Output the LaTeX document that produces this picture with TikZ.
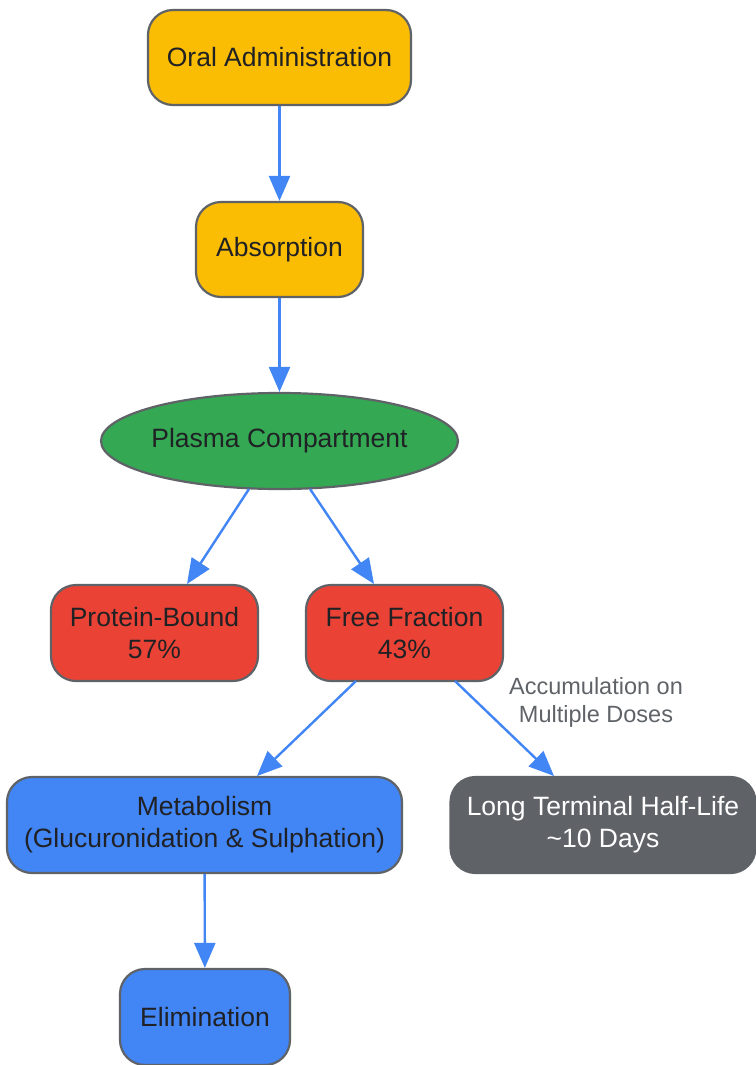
\documentclass[tikz,border=0pt]{standalone}
\usepackage{fontspec}
\setmainfont{Liberation Sans}
\usetikzlibrary{shapes.geometric,arrows.meta}
\definecolor{gyellow}{HTML}{FBBC04}
\definecolor{ggreen}{HTML}{34A853}
\definecolor{gred}{HTML}{EA4335}
\definecolor{gblue}{HTML}{4285F4}
\definecolor{ggray}{HTML}{5F6368}
\definecolor{gtext}{HTML}{202124}
\tikzset{
  box/.style={draw=ggray, line width=2.2pt, rounded corners=25pt, align=center,
    text=gtext, font=\fontsize{26.5}{32}\selectfont, inner sep=0pt},
  oval/.style={draw=ggray, line width=2.2pt, ellipse, align=center,
    text=gtext, font=\fontsize{26.5}{32}\selectfont, inner xsep=-30pt, inner ysep=0pt},
  link/.style={draw=gblue, line width=2.4pt, -{Triangle[length=25pt,width=21pt]}},
  lbl/.style={text=ggray, font=\fontsize{23.5}{28}\selectfont, align=center}
}
\begin{document}
\begin{tikzpicture}[x=1pt,y=-1pt]
\useasboundingbox (0,0) rectangle (755,1065);
\node[box, fill=gyellow, minimum width=263pt, minimum height=95pt] (oral) at (279.5,57.5) {Oral Administration};
\node[box, fill=gyellow, minimum width=167pt, minimum height=95pt] (abs) at (279.5,249.5) {Absorption};
\node[oval, fill=ggreen, minimum width=357pt, minimum height=96pt] (plasma) at (279.5,441) {Plasma Compartment};
\node[box, fill=gred, minimum width=207pt, minimum height=96pt] (bound) at (154.5,633) {Protein-Bound\\57\%};
\node[box, fill=gred, minimum width=197pt, minimum height=96pt] (free) at (404.5,633) {Free Fraction\\43\%};
\node[box, fill=gblue, minimum width=395pt, minimum height=96pt] (met) at (204.5,825) {Metabolism\\(Glucuronidation \& Sulphation)};
\node[box, fill=ggray, text=white, minimum width=305pt, minimum height=96pt] (half) at (603,825) {Long Terminal Half-Life\\\char`~10 Days};
\node[box, fill=gblue, minimum width=170pt, minimum height=96pt] (elim) at (205,1017) {Elimination};
\node[lbl] (acc) at (596,702) {Accumulation on\\Multiple Doses};
\coordinate (p1) at (249,489);
\coordinate (p2) at (310,489);
\coordinate (b1) at (187,584);
\coordinate (f1) at (374,584);
\coordinate (f2) at (356,681);
\coordinate (f3) at (455,681);
\coordinate (m1) at (257,776);
\coordinate (h1) at (554,776);
\draw[link] (oral) -- (abs);
\draw[link] (abs) -- (plasma);
\draw[link] (p1) -- (b1);
\draw[link] (p2) -- (f1);
\draw[link] (f2) -- (m1);
\draw[link] (f3) -- (h1);
\draw[link] (met) -- (elim);
\end{tikzpicture}
\end{document}
